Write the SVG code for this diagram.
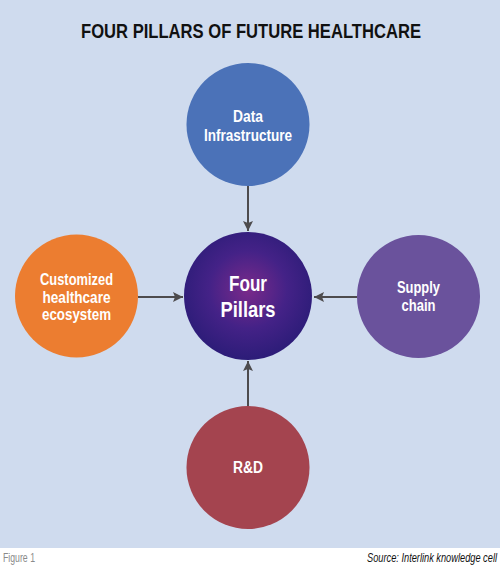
<svg xmlns="http://www.w3.org/2000/svg" width="500" height="571" viewBox="0 0 500 571">
<style>
.t{font-family:"Liberation Sans",Arial,sans-serif;font-weight:bold;fill:#fff;text-anchor:middle}
.lbl{font-size:16px}
.conn{stroke:#4d4b4d;stroke-width:2;fill:none}
</style>
<defs>
<radialGradient id="cg" cx="0.5" cy="0.45" r="0.55">
<stop offset="0" stop-color="#7a2a8a"/>
<stop offset="0.55" stop-color="#442287"/>
<stop offset="1" stop-color="#2c1c78"/>
</radialGradient>
<marker id="ah" viewBox="0 0 10 10" refX="10" refY="5" markerWidth="10" markerHeight="10" markerUnits="userSpaceOnUse" orient="auto">
<path d="M0,0 L10,5 L0,10 L2,5 Z" fill="#4d4b4d"/>
</marker>
</defs>
<rect x="0" y="0" width="500" height="548" fill="#cfdbee"/>
<rect x="0" y="548" width="500" height="23" fill="#fff"/>
<text x="251" y="38" font-family="Liberation Sans,Arial,sans-serif" font-weight="bold" font-size="21" fill="#111" text-anchor="middle" textLength="340" lengthAdjust="spacingAndGlyphs">FOUR PILLARS OF FUTURE HEALTHCARE</text>
<g id="connectors">
<line class="conn" x1="248" y1="186" x2="248" y2="231" marker-end="url(#ah)"/>
<line class="conn" x1="138" y1="297" x2="183" y2="297" marker-end="url(#ah)"/>
<line class="conn" x1="357" y1="297" x2="314" y2="297" marker-end="url(#ah)"/>
<line class="conn" x1="248" y1="406" x2="248" y2="361" marker-end="url(#ah)"/>
</g>
<g id="data">
<circle cx="248" cy="124.5" r="61.5" fill="#4b72b8"/>
<text class="t lbl" x="248" y="122" textLength="30" lengthAdjust="spacingAndGlyphs">Data</text>
<text class="t lbl" x="248" y="141" textLength="88" lengthAdjust="spacingAndGlyphs">Infrastructure</text>
</g>
<g id="customized">
<circle cx="76.5" cy="296" r="61.5" fill="#ec7d30"/>
<text class="t lbl" x="76.5" y="285" textLength="73" lengthAdjust="spacingAndGlyphs">Customized</text>
<text class="t lbl" x="76.5" y="302.5" textLength="68" lengthAdjust="spacingAndGlyphs">healthcare</text>
<text class="t lbl" x="76.5" y="320" textLength="69" lengthAdjust="spacingAndGlyphs">ecosystem</text>
</g>
<g id="center">
<circle cx="248" cy="296" r="64" fill="url(#cg)"/>
<text class="t" x="248" y="291" font-size="22" textLength="38" lengthAdjust="spacingAndGlyphs">Four</text>
<text class="t" x="248" y="317" font-size="22" textLength="55" lengthAdjust="spacingAndGlyphs">Pillars</text>
</g>
<g id="supply">
<circle cx="418.5" cy="296.5" r="61.5" fill="#6a529c"/>
<text class="t lbl" x="418.5" y="293" textLength="43" lengthAdjust="spacingAndGlyphs">Supply</text>
<text class="t lbl" x="418.5" y="311" textLength="34" lengthAdjust="spacingAndGlyphs">chain</text>
</g>
<g id="rd">
<circle cx="248" cy="467.5" r="61.5" fill="#a4444f"/>
<text class="t lbl" x="248" y="473" textLength="30" lengthAdjust="spacingAndGlyphs">R&amp;D</text>
</g>
<text x="3" y="562" font-family="Liberation Sans,Arial,sans-serif" font-size="12" fill="#8a8a8a" textLength="32" lengthAdjust="spacingAndGlyphs">Figure 1</text>
<text x="497" y="562" font-family="Liberation Sans,Arial,sans-serif" font-style="italic" font-size="12" fill="#111" text-anchor="end" textLength="130" lengthAdjust="spacingAndGlyphs">Source: Interlink knowledge cell</text>
</svg>
